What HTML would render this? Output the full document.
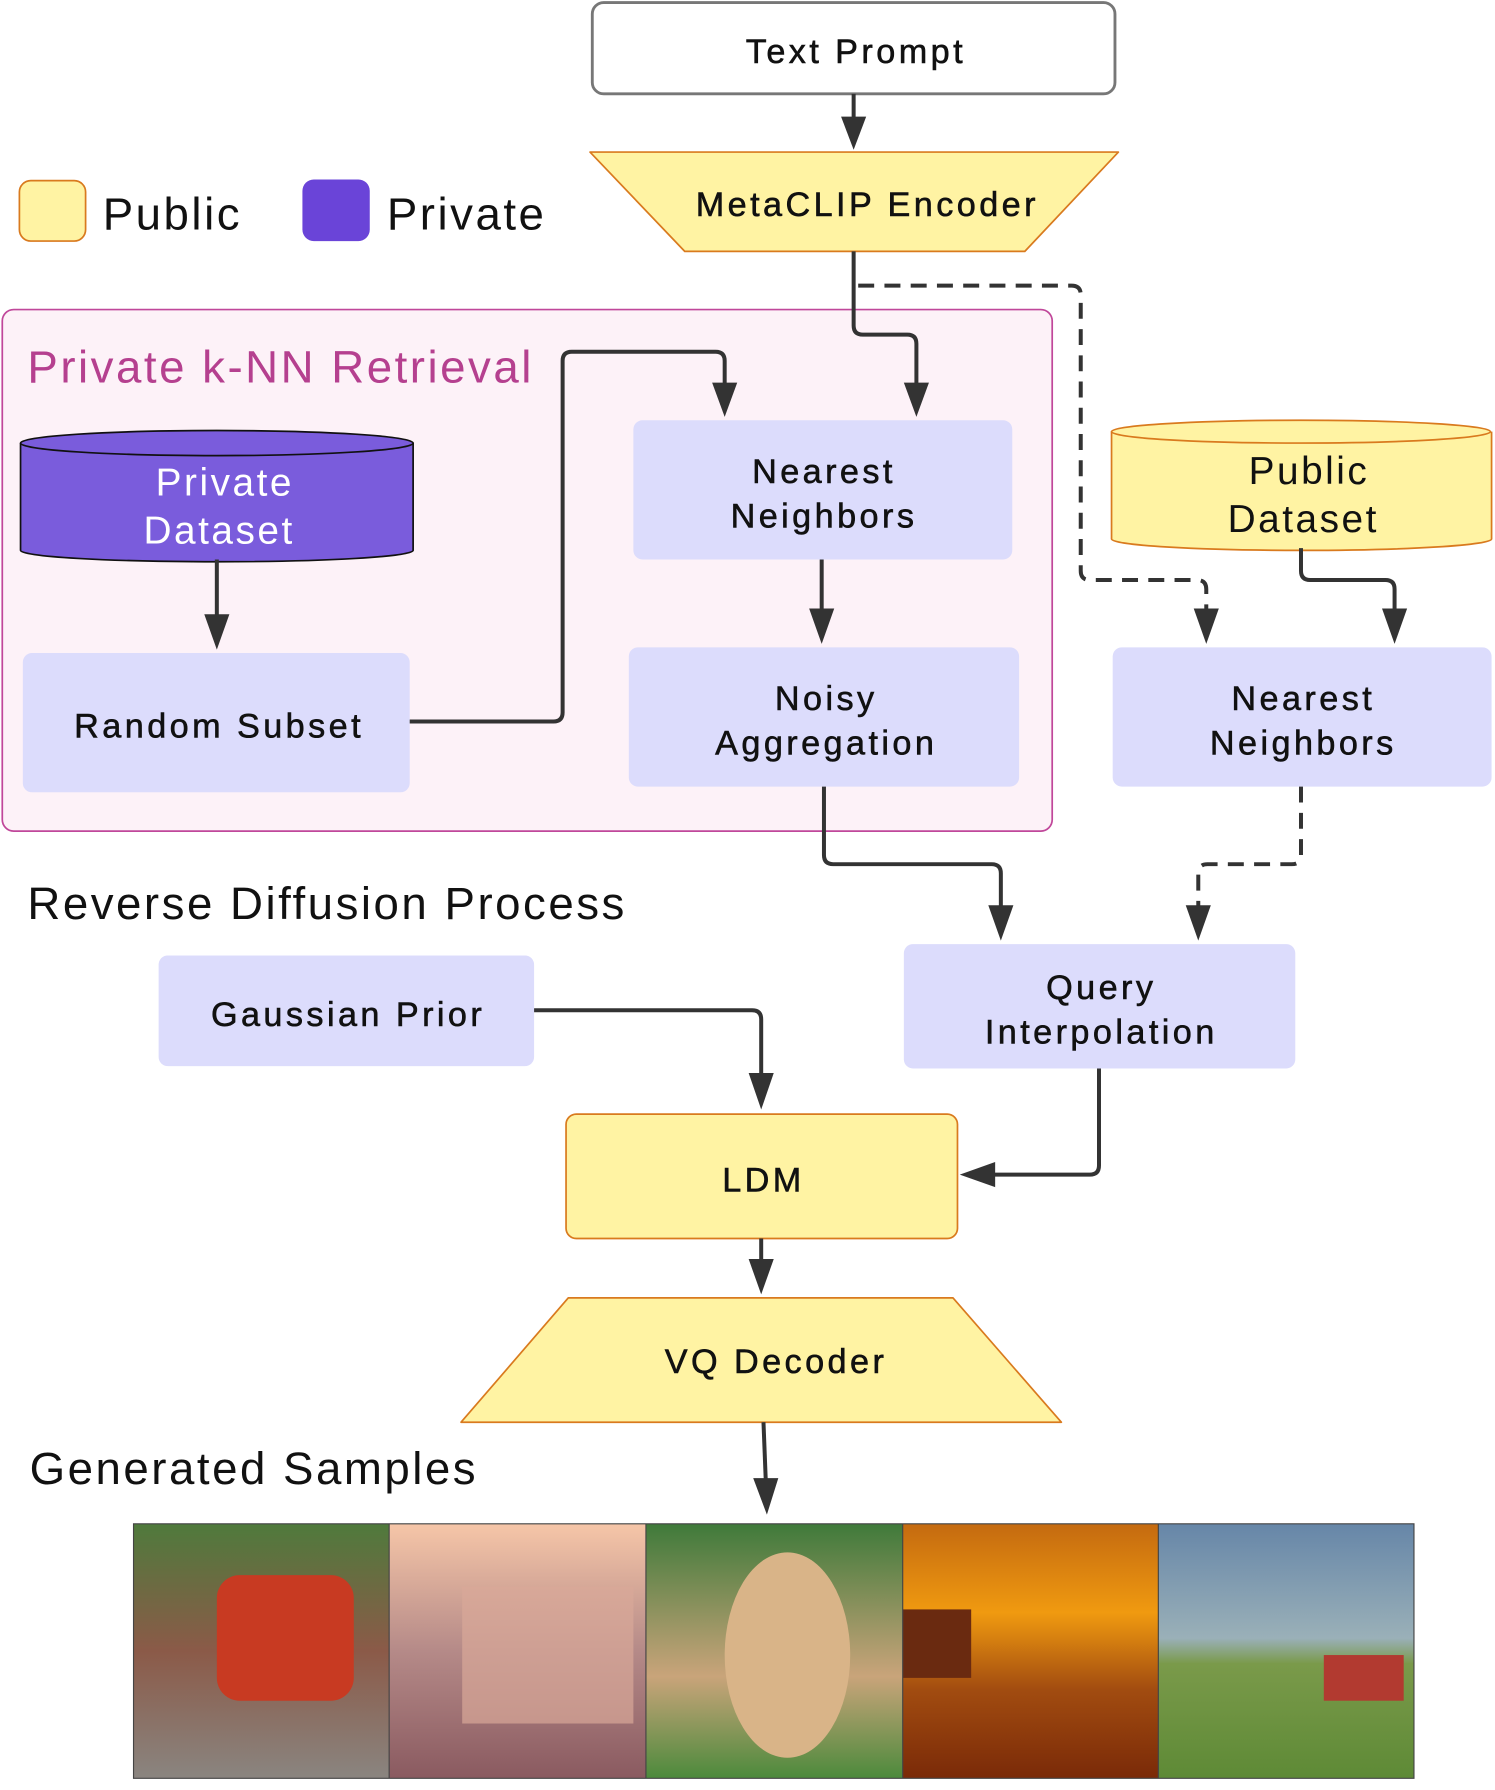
<!DOCTYPE html>
<html><head><meta charset="utf-8"><style>
html,body{margin:0;padding:0;background:#fff}
svg{display:block}
text{font-family:"Liberation Sans",sans-serif}
.b{letter-spacing:3px;stroke:#111;stroke-width:0.5}
.h{letter-spacing:2.2px}
</style></head><body>
<svg width="1495" height="1790" viewBox="0 0 1310 1568" xmlns="http://www.w3.org/2000/svg">
<defs>
<linearGradient id="g1" x1="0" y1="0" x2="0" y2="1"><stop offset="0" stop-color="#4f7a3c"/><stop offset="0.5" stop-color="#8b5a48"/><stop offset="1" stop-color="#8a8580"/></linearGradient>
<linearGradient id="g2" x1="0" y1="0" x2="0" y2="1"><stop offset="0" stop-color="#f6c6a8"/><stop offset="0.5" stop-color="#b58a88"/><stop offset="1" stop-color="#8a5a60"/></linearGradient>
<linearGradient id="g3" x1="0" y1="0" x2="0" y2="1"><stop offset="0" stop-color="#3f7a3a"/><stop offset="0.6" stop-color="#c9a47a"/><stop offset="1" stop-color="#4c8a3c"/></linearGradient>
<linearGradient id="g4" x1="0" y1="0" x2="0" y2="1"><stop offset="0" stop-color="#c46a10"/><stop offset="0.35" stop-color="#f09a10"/><stop offset="0.65" stop-color="#a24c10"/><stop offset="1" stop-color="#7a2a08"/></linearGradient>
<linearGradient id="g5" x1="0" y1="0" x2="0" y2="1"><stop offset="0" stop-color="#6686a8"/><stop offset="0.45" stop-color="#9ab0b8"/><stop offset="0.55" stop-color="#7a9a4a"/><stop offset="1" stop-color="#5e8a36"/></linearGradient>
</defs>

<!-- legend -->
<rect x="17" y="158" width="58" height="53" rx="10" fill="#fff3a3" stroke="#d97a1e" stroke-width="1.5"/>
<text x="90" y="201" font-size="40" fill="#111" class="h">Public</text>
<rect x="265" y="157" width="59" height="54" rx="10" fill="#6a44d8"/>
<text x="339" y="201" font-size="40" fill="#111" class="h">Private</text>

<!-- Text prompt -->
<rect x="519" y="2" width="458" height="80" rx="10" fill="#fff" stroke="#777" stroke-width="2.5"/>
<text x="750" y="55" font-size="30" text-anchor="middle" fill="#111" class="b">Text Prompt</text>

<!-- MetaCLIP -->
<polygon points="517,133 980,133 898,220 600,220" fill="#fff3a3" stroke="#d97a1e" stroke-width="1.5" stroke-linejoin="round"/>
<text x="760" y="189" font-size="30" text-anchor="middle" fill="#111" class="b">MetaCLIP Encoder</text>

<!-- container -->
<rect x="2" y="271" width="920" height="457" rx="10" fill="#fdf2f8" stroke="#c0479a" stroke-width="1.5"/>
<text x="24" y="335" font-size="40" fill="#b5408f" class="h">Private k-NN Retrieval</text>

<!-- private dataset -->
<path d="M18,388 L18,482 A172,10 0 0 0 362,482 L362,388" fill="#7a5cdc" stroke="#111" stroke-width="1.5"/>
<ellipse cx="190" cy="388" rx="172" ry="11" fill="#7a5cdc" stroke="#111" stroke-width="1.5"/>
<text x="197" y="434" font-size="34" text-anchor="middle" fill="#fff" class="h">Private</text>
<text x="192" y="476" font-size="34" text-anchor="middle" fill="#fff" class="h">Dataset</text>

<!-- public dataset -->
<path d="M974,378 L974,472 A166,10 0 0 0 1307,472 L1307,378" fill="#fff3a3" stroke="#d97a1e" stroke-width="1.5"/>
<ellipse cx="1140" cy="378" rx="166" ry="10" fill="#fff3a3" stroke="#d97a1e" stroke-width="1.5"/>
<text x="1147" y="424" font-size="34" text-anchor="middle" fill="#111" class="h">Public</text>
<text x="1142" y="466" font-size="34" text-anchor="middle" fill="#111" class="h">Dataset</text>

<!-- boxes -->
<g fill="#dcdcfc">
<rect x="20" y="572" width="339" height="122" rx="8"/>
<rect x="555" y="368" width="332" height="122" rx="8"/>
<rect x="551" y="567" width="342" height="122" rx="8"/>
<rect x="975" y="567" width="332" height="122" rx="8"/>
<rect x="139" y="837" width="329" height="97" rx="8"/>
<rect x="792" y="827" width="343" height="109" rx="8"/>
</g>
<g font-size="30" text-anchor="middle" fill="#111" class="b">
<text x="192" y="646">Random Subset</text>
<text x="722" y="423">Nearest</text>
<text x="722" y="462">Neighbors</text>
<text x="724" y="622">Noisy</text>
<text x="724" y="661">Aggregation</text>
<text x="1142" y="622">Nearest</text>
<text x="1142" y="661">Neighbors</text>
<text x="305" y="899">Gaussian Prior</text>
<text x="965" y="875">Query</text>
<text x="965" y="914">Interpolation</text>
</g>

<text x="24" y="805" font-size="40" fill="#111" class="h">Reverse Diffusion Process</text>

<!-- LDM -->
<rect x="496" y="976" width="343" height="109" rx="9" fill="#fff3a3" stroke="#d97a1e" stroke-width="1.5"/>
<text x="669" y="1044" font-size="30" text-anchor="middle" fill="#111" class="b">LDM</text>

<!-- VQ -->
<polygon points="498,1137 835,1137 930,1246 404,1246" fill="#fff3a3" stroke="#d97a1e" stroke-width="1.5" stroke-linejoin="round"/>
<text x="680" y="1203" font-size="30" text-anchor="middle" fill="#111" class="b">VQ Decoder</text>

<text x="26" y="1300" font-size="40" fill="#111" class="h">Generated Samples</text>

<!-- images -->
<rect x="117" y="1335" width="224" height="223" fill="url(#g1)"/>
<rect x="341" y="1335" width="225" height="223" fill="url(#g2)"/>
<rect x="566" y="1335" width="225" height="223" fill="url(#g3)"/>
<rect x="791" y="1335" width="224" height="223" fill="url(#g4)"/>
<rect x="1015" y="1335" width="224" height="223" fill="url(#g5)"/>
<rect x="190" y="1380" width="120" height="110" rx="20" fill="#c83a22"/>
<rect x="405" y="1390" width="150" height="120" fill="#d8a898" opacity="0.7"/>
<ellipse cx="690" cy="1450" rx="55" ry="90" fill="#d9b488"/>
<rect x="791" y="1410" width="60" height="60" fill="#6a2a10"/>
<rect x="1160" y="1450" width="70" height="40" fill="#b23a30"/>
<g stroke="#444" stroke-width="1" fill="none">
<rect x="117" y="1335" width="1122" height="223"/>
<line x1="341" y1="1335" x2="341" y2="1558"/><line x1="566" y1="1335" x2="566" y2="1558"/>
<line x1="791" y1="1335" x2="791" y2="1558"/><line x1="1015" y1="1335" x2="1015" y2="1558"/>
</g>

<!-- connectors -->
<g stroke="#333" stroke-width="3.5" fill="none" stroke-linejoin="round">
<path d="M748,82 V104"/>
<path d="M748,220 V285 Q748,293 756,293 H795 Q803,293 803,301 V336"/>
<path d="M359,632 H485 Q493,632 493,624 V316 Q493,308 501,308 H627 Q635,308 635,316 V336"/>
<path d="M190,490 V540"/>
<path d="M720,490 V535"/>
<path d="M1140,480 V500 Q1140,508 1148,508 H1214 Q1222,508 1222,516 V535"/>
<path d="M722,689 V749 Q722,757 730,757 H869 Q877,757 877,765 V795"/>
<path d="M468,885 H659 Q667,885 667,893 V942"/>
<path d="M963,936 V1021 Q963,1029 955,1029 H870"/>
<path d="M667,1085 V1105"/>
<path d="M669,1246 L671,1297"/>
</g>
<g stroke="#333" stroke-width="3.5" fill="none" stroke-dasharray="14,9" stroke-linejoin="round">
<path d="M752,250 H939 Q947,250 947,258 V500 Q947,508 955,508 H1049 Q1057,508 1057,516 V535"/>
<path d="M1140,689 V749 Q1140,757 1132,757 H1058 Q1050,757 1050,765 V795"/>
</g>
<g fill="#333">
<polygon points="737,102 759,102 748,131"/>
<polygon points="792,335 814,335 803,365"/>
<polygon points="624,335 646,335 635,365"/>
<polygon points="179,538 201,538 190,569"/>
<polygon points="709,533 731,533 720,564"/>
<polygon points="1046,533 1068,533 1057,564"/>
<polygon points="1211,533 1233,533 1222,564"/>
<polygon points="866,793 888,793 877,824"/>
<polygon points="1039,793 1061,793 1050,824"/>
<polygon points="656,940 678,940 667,972"/>
<polygon points="872,1018 872,1040 841,1029"/>
<polygon points="656,1103 678,1103 667,1134"/>
<polygon points="660,1295 682,1295 672,1327"/>
</g>
</svg>
</body></html>
